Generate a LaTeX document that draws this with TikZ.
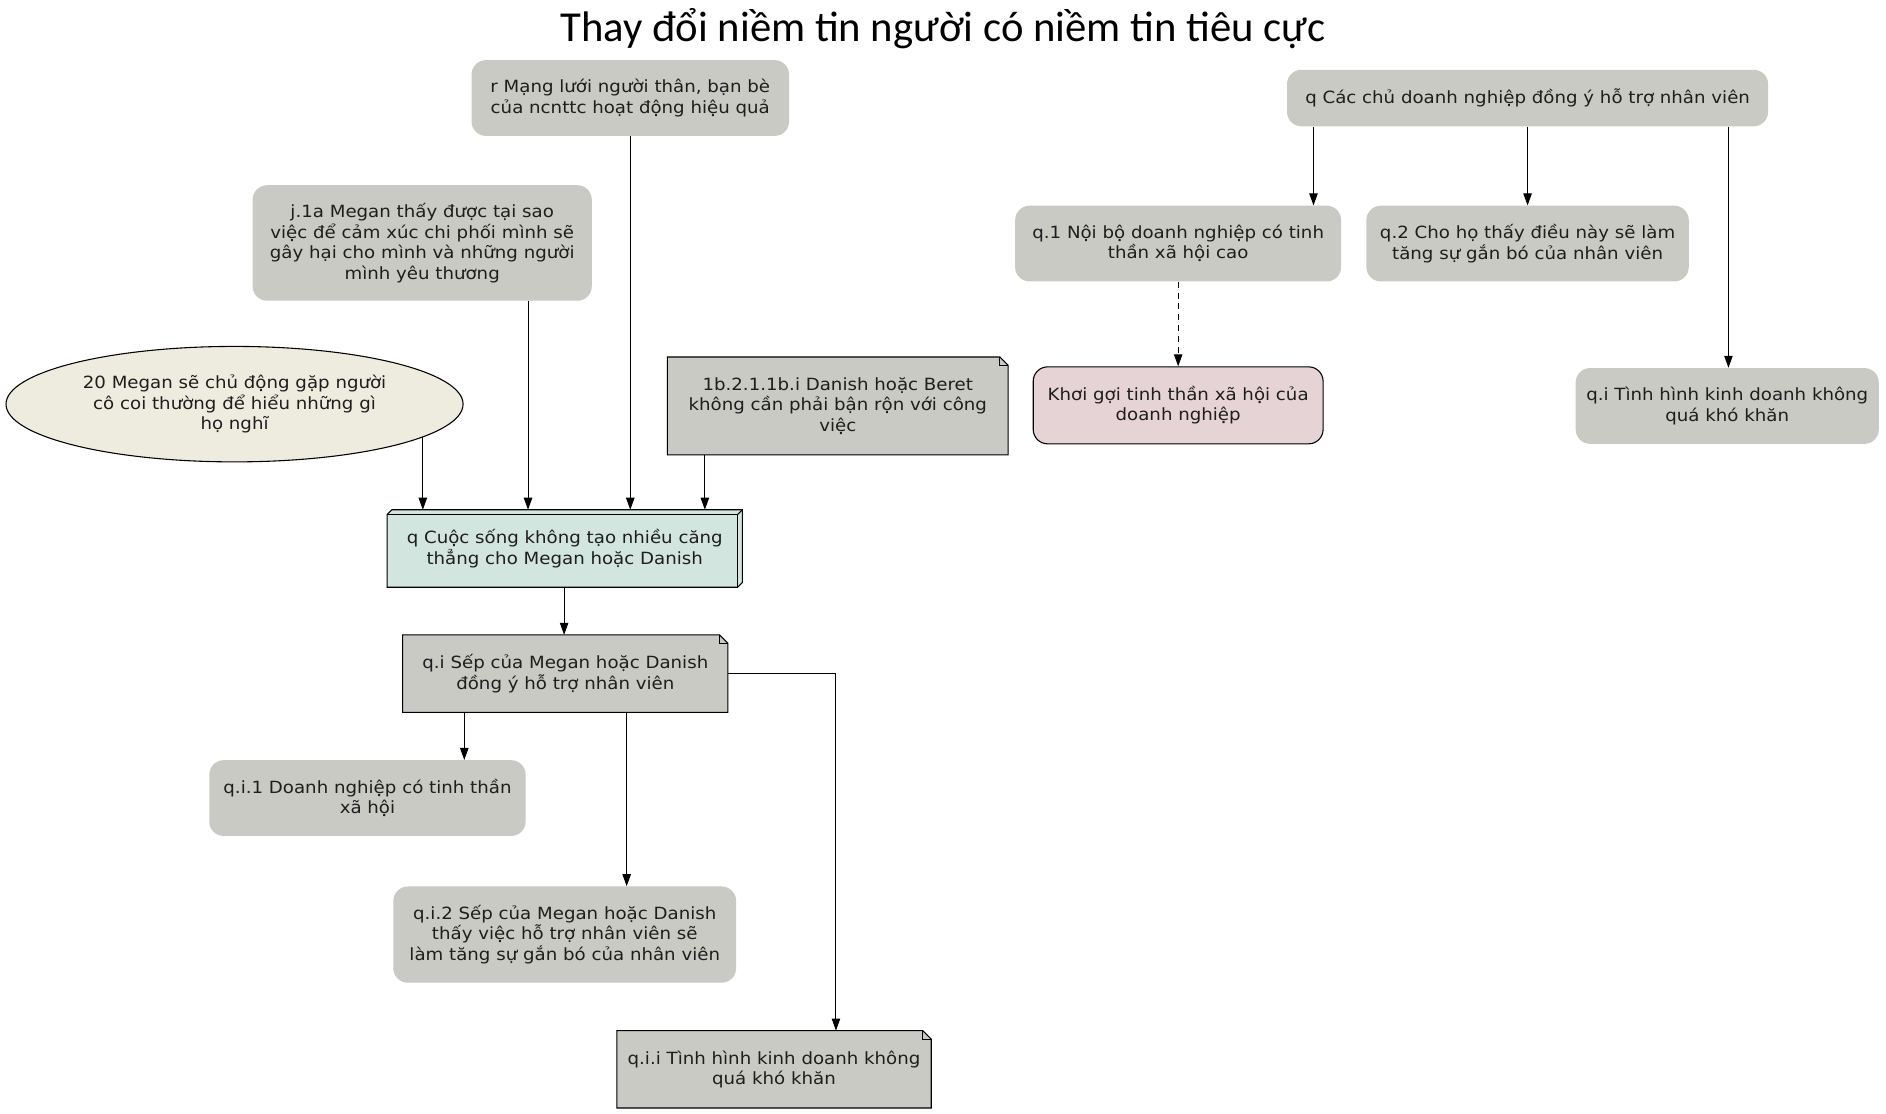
\documentclass[tikz,border=0pt]{standalone}
\usepackage{fontspec}
\setmainfont{DejaVu Sans}[FakeStretch=1.08]
\newfontfamily\titlefont{Carlito}
\usetikzlibrary{arrows.meta,shapes.geometric,backgrounds,calc}
\definecolor{gfill}{RGB}{200,202,195}
\definecolor{tfill}{RGB}{211,229,223}
\definecolor{efill}{RGB}{238,235,223}
\definecolor{pfill}{RGB}{229,211,214}
\definecolor{txt}{RGB}{30,30,30}
\begin{document}
\begin{tikzpicture}[x=1pt,y=-1pt,
  font=\fontsize{14}{17}\selectfont,
  base/.style={align=center, inner sep=0pt, text=txt},
  rbox/.style={base, rounded corners=12pt, fill=gfill},
  rboxb/.style={base, rounded corners=12pt, fill=pfill, draw=black, line width=0.9pt},
  ellbox/.style={base, ellipse, fill=efill, draw=black, line width=0.9pt},
  plainbox/.style={base},
  arr/.style={-{Triangle[length=10pt,width=7pt]}, line width=0.8pt},
  outl/.style={line width=0.9pt, line join=miter}]
\useasboundingbox (0,0) rectangle (1568,926);
\node[font=\titlefont\fontsize{35.5}{40}\selectfont] (title) at (784,24) {Thay đổi niềm tin người có niềm tin tiêu cực};

% left cluster
\node[rbox, minimum width=264, minimum height=63] (r) at (524,81.5) {r Mạng lưới người thân, bạn bè\\của ncnttc hoạt động hiệu quả};
\node[rbox, minimum width=282, minimum height=96] (j1a) at (351,202) {j.1a Megan thấy được tại sao\\việc để cảm xúc chi phối mình sẽ\\gây hại cho mình và những người\\mình yêu thương};
\node[ellbox, minimum width=380, minimum height=96] (ell) at (195,336) {20 Megan sẽ chủ động gặp người\\cô coi thường để hiểu những gì\\họ nghĩ};
\node[plainbox, minimum width=283, minimum height=81] (n1b) at (696.5,337.5) {1b.2.1.1b.i Danish hoặc Beret\\không cần phải bận rộn với công\\việc};
\node[plainbox, minimum width=295, minimum height=64] (q) at (469.5,456) {q Cuộc sống không tạo nhiều căng\\thẳng cho Megan hoặc Danish};
\node[plainbox, minimum width=270, minimum height=64] (qi) at (470,560) {q.i Sếp của Megan hoặc Danish\\đồng ý hỗ trợ nhân viên};
\node[rbox, minimum width=263, minimum height=63] (qi1) at (305.5,663.5) {q.i.1 Doanh nghiệp có tinh thần\\xã hội};
\node[rbox, minimum width=285, minimum height=80] (qi2) at (469.5,777) {q.i.2 Sếp của Megan hoặc Danish\\thấy việc hỗ trợ nhân viên sẽ\\làm tăng sự gắn bó của nhân viên};
\node[plainbox, minimum width=261, minimum height=64] (qii) at (643.5,889) {q.i.i Tình hình kinh doanh không\\quá khó khăn};

% right cluster
\node[rbox, minimum width=400, minimum height=47] (qcac) at (1270,81.5) {q Các chủ doanh nghiệp đồng ý hỗ trợ nhân viên};
\node[rbox, minimum width=271, minimum height=63] (q1) at (979.5,202.5) {q.1 Nội bộ doanh nghiệp có tinh\\thần xã hội cao};
\node[rbox, minimum width=268, minimum height=63] (q2) at (1270,202.5) {q.2 Cho họ thấy điều này sẽ làm\\tăng sự gắn bó của nhân viên};
\node[rboxb, minimum width=241, minimum height=64] (khoi) at (979.5,337) {Khơi gợi tinh thần xã hội của\\doanh nghiệp};
\node[rbox, minimum width=252, minimum height=63] (qti) at (1436,337.5) {q.i Tình hình kinh doanh không\\quá khó khăn};

% note and box3d outlines behind the text
\begin{scope}[on background layer]
  \foreach \n in {n1b,qi,qii}{
    \draw[outl, fill=gfill] (\n.north west) -- ($(\n.north east)+(-7,0)$) -- ($(\n.north east)+(0,7)$) -- (\n.south east) -- (\n.south west) -- cycle;
    \draw[line width=0.6pt] ($(\n.north east)+(-7,0)$) -- ($(\n.north east)+(-7,7)$) -- ($(\n.north east)+(0,7)$);
  }
  \draw[outl, fill=tfill] ($(q.north west)+(0,4)$) -- ($(q.north west)+(4,0)$) -- (q.north east) -- ($(q.south east)+(0,-4)$) -- ($(q.south east)+(-4,0)$) -- (q.south west) -- cycle;
  \draw[outl] ($(q.north west)+(0,4)$) -- ($(q.north east)+(-4,4)$) -- ($(q.south east)+(-4,0)$);
  \draw[outl] ($(q.north east)+(-4,4)$) -- (q.north east);
\end{scope}

% connector x positions
\coordinate (x439) at (439,0);
\coordinate (x586) at (586,0);
\coordinate (x469) at (469,0);
\coordinate (x386) at (386,0);
\coordinate (x521) at (521,0);
\coordinate (x695) at (695,0);
\coordinate (x1092) at (1092,0);
\coordinate (x1437) at (1437,0);

\draw[arr] (ell.-10) -- (ell.-10 |- q.north);
\draw[arr] (j1a.south -| x439) -- (q.north -| x439);
\draw[arr] (r.south) -- (r.south |- q.north);
\draw[arr] (n1b.south -| x586) -- (q.north -| x586);
\draw[arr] (q.south -| x469) -- (qi.north -| x469);
\draw[arr] (qi.south -| x386) -- (qi1.north -| x386);
\draw[arr] (qi.south -| x521) -- (qi2.north -| x521);
\draw[arr] (qi.east) -| (qii.north -| x695);
\draw[arr] (qcac.south -| x1092) -- (q1.north -| x1092);
\draw[arr] (qcac.south) -- (q2.north);
\draw[arr] (qcac.south -| x1437) -- (qti.north -| x1437);
\draw[arr, dash pattern=on 5pt off 4pt] (q1.south) -- (khoi.north);
\end{tikzpicture}
\end{document}
